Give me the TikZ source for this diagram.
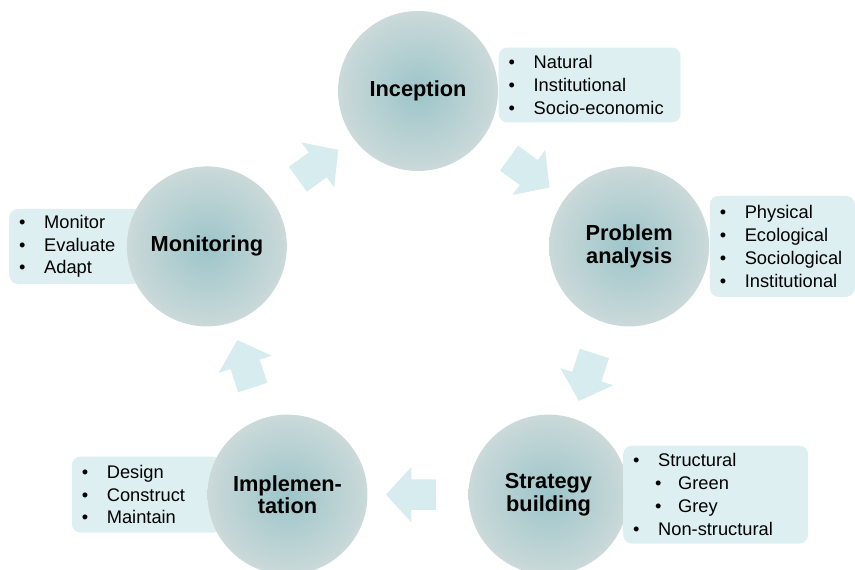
\documentclass[tikz,border=0pt]{standalone}
\usepackage{fontspec}
\setmainfont{Liberation Sans}
\usetikzlibrary{shapes.arrows, positioning, calc, backgrounds}
\definecolor{circteal}{RGB}{156, 197, 201}
\definecolor{circgrey}{RGB}{203, 217, 217}
\definecolor{boxcyan}{RGB}{221, 239, 241}
\definecolor{arrowcyan}{RGB}{214, 236, 238}
\tikzset{
  stage/.style={circle, minimum size=3.2cm, inner sep=0pt, inner color=circteal, outer color=circgrey, align=center, font=\fontsize{12.4}{12.8}\selectfont\bfseries},
  listbox/.style={fill=boxcyan, rounded corners=5pt, align=left, inner xsep=0.2cm, inner ysep=0pt, font=\fontsize{10.4}{13}\selectfont},
  flowarrow/.style={single arrow, fill=arrowcyan, minimum height=1cm, minimum width=1.1cm, single arrow head extend=0.25cm, single arrow tip angle=95, inner xsep=0pt, inner ysep=0.3cm}
}
\newcommand{\itm}[1]{\makebox[0.5cm][l]{\textbullet}#1}
\newcommand{\subitm}[1]{\hspace{0.44cm}\makebox[0.46cm][l]{\textbullet}#1}

\begin{document}
\begin{tikzpicture}[x=0.02cm, y=0.02cm]
  \clip (0,0) rectangle (855,569);
  \coordinate (hub) at (418,254);

  % Stages round the cycle
  \node[stage] (inc) at ($(hub)+(90:224)$) {Inception};
  \node[stage] (prob) at ($(hub)+(18:222)$) {Problem\\analysis};
  \node[stage] (strat) at ($(hub)+(-54:222)$) {Strategy\\building};
  \node[stage] (impl) at ($(hub)+(-126:222)$) {Implemen-\\tation};
  \node[stage] (mon) at ($(hub)+(162:222)$) {Monitoring};

  % Flow arrows between stages
  \foreach \from/\to/\ang in {mon/inc/36, inc/prob/-36, prob/strat/-108, strat/impl/180, impl/mon/108}
    \node[flowarrow, rotate=\ang] at ($(\from)!0.5!(\to)$) {};

  % Lists on the right, over the circles
  \node[listbox, anchor=west, text width=3.24cm, minimum height=1.5cm] (incl) at ([yshift=0.12cm]inc.east)
    {\itm{Natural}\\ \itm{Institutional}\\ \itm{Socio-economic}};
  \node[listbox, anchor=west, text width=2.5cm, minimum height=2.02cm] (probl) at (prob.east)
    {\itm{Physical}\\ \itm{Ecological}\\ \itm{Sociological}\\ \itm{Institutional}};
  \node[listbox, anchor=west, text width=3.3cm, minimum height=1.96cm] (stratl) at ([xshift=-0.12cm]strat.east)
    {\itm{Structural}\\ \subitm{Green}\\ \subitm{Grey}\\ \itm{Non-structural}};

  % Lists on the left, under the circles
  \begin{scope}[on background layer]
    \node[listbox, anchor=east, text width=2.6cm, minimum height=1.52cm] (impll) at ([xshift=0.3cm]impl.west)
      {\itm{Design}\\ \itm{Construct}\\ \itm{Maintain}};
    \node[listbox, anchor=east, text width=2.26cm, minimum height=1.5cm] (monl) at ([xshift=0.32cm]mon.west)
      {\itm{Monitor}\\ \itm{Evaluate}\\ \itm{Adapt}};
  \end{scope}
\end{tikzpicture}
\end{document}
